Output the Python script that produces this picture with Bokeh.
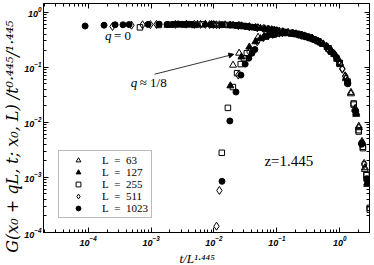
import math
from bokeh.plotting import figure
from bokeh.models import (LogAxis, LogTicker, Label, Legend, LegendItem, Title,
                          Arrow, NormalHead, Range1d)
from bokeh.embed import file_html
from bokeh.resources import INLINE

Z = 1.445
SIZES = [63, 127, 255, 511, 1023]

# ---- q = 0 branch : raw times t and G/t^(0.445/1.445)
T0_63 = [2, 4, 6, 8, 10, 20, 30, 40, 50, 60, 70, 80, 90, 100,
         200, 300, 400, 500, 600, 700, 800, 900, 1000]
G0_63 = [0.57, 0.59, 0.59, 0.58, 0.57, 0.52, 0.48, 0.46, 0.44, 0.43, 0.415, 0.405, 0.39, 0.38,
         0.28, 0.19, 0.12, 0.065, 0.035, 0.018, 0.0085, 0.0045, 0.0015]

T0_127 = [2, 4, 6, 8, 10, 20, 30, 40, 50, 60, 70, 80, 90, 100,
          200, 300, 400, 500, 600, 700, 800, 900, 1000, 2000, 3000]
G0_127 = [0.58, 0.59, 0.60, 0.60, 0.595, 0.585, 0.565, 0.545, 0.525, 0.51, 0.50, 0.49, 0.48, 0.47,
          0.41, 0.37, 0.335, 0.295, 0.265, 0.235, 0.20, 0.175, 0.145, 0.015, 0.0008]

T0_255 = [2, 4, 6, 8, 10, 20, 30, 40, 50, 60, 70, 80, 90, 100,
          200, 300, 400, 500, 600, 700, 800, 900, 1000,
          2000, 3000, 4000, 5000, 6000, 7000, 8000, 9000]
G0_255 = [0.53, 0.585, 0.595, 0.60, 0.60, 0.60, 0.595, 0.59, 0.585, 0.58, 0.575, 0.565, 0.56, 0.55,
          0.495, 0.46, 0.435, 0.42, 0.405, 0.39, 0.375, 0.36, 0.345,
          0.22, 0.12, 0.055, 0.022, 0.0072, 0.0036, 0.0011, 0.00026]

T0_511 = [2, 4, 6, 8, 10, 20, 30, 40, 50, 60, 70, 80, 90, 100,
          200, 300, 400, 500, 600, 700, 800, 900, 1000,
          2000, 3000, 4000, 5000, 6000, 7000, 8000, 9000, 10000, 20000]
G0_511 = [0.55, 0.58, 0.59, 0.595, 0.60, 0.60, 0.605, 0.60, 0.60, 0.60, 0.595, 0.595, 0.59, 0.59,
          0.57, 0.54, 0.52, 0.505, 0.49, 0.475, 0.46, 0.45, 0.44,
          0.385, 0.335, 0.285, 0.24, 0.20, 0.165, 0.13, 0.095, 0.07, 0.0018]

T0_1023 = [2, 4, 6, 8, 10, 20, 30, 40, 50, 60, 70, 80, 90, 100,
           200, 300, 400, 500, 600, 700, 800, 900, 1000,
           2000, 3000, 4000, 5000, 6000, 7000, 8000, 9000, 10000,
           20000, 30000, 40000, 50000, 60000]
G0_1023 = [0.56, 0.58, 0.59, 0.59, 0.595, 0.60, 0.605, 0.60, 0.60, 0.61, 0.60, 0.60, 0.605, 0.60,
           0.595, 0.59, 0.585, 0.575, 0.565, 0.555, 0.545, 0.535, 0.525,
           0.47, 0.435, 0.415, 0.39, 0.37, 0.355, 0.335, 0.32, 0.30,
           0.15, 0.052, 0.016, 0.0042, 0.00095]

# ---- q ~ 1/8 branch
T8_63 = [8, 10, 20, 30, 40, 50, 60, 70, 80, 90, 100,
         200, 300, 400, 500, 600, 700, 800, 900, 1000]
G8_63 = [0.109, 0.18, 0.35, 0.42, 0.44, 0.435, 0.42, 0.41, 0.40, 0.385, 0.375,
         0.275, 0.185, 0.115, 0.062, 0.033, 0.017, 0.008, 0.0042, 0.0014]

T8_127 = [20, 30, 40, 50, 60, 70, 80, 90, 100,
          200, 300, 400, 500, 600, 700, 800, 900, 1000, 2000, 3000]
G8_127 = [0.046, 0.154, 0.233, 0.29, 0.33, 0.36, 0.38, 0.395, 0.405,
          0.40, 0.365, 0.33, 0.29, 0.26, 0.23, 0.195, 0.17, 0.14, 0.014, 0.00075]

T8_255 = [40, 50, 60, 70, 80, 90, 100,
          200, 300, 400, 500, 600, 700, 800, 900, 1000,
          2000, 3000, 4000, 5000, 6000, 7000, 8000, 9000]
G8_255 = [0.0028, 0.0183, 0.0437, 0.078, 0.114, 0.146, 0.18,
          0.36, 0.41, 0.42, 0.41, 0.40, 0.385, 0.37, 0.355, 0.34,
          0.215, 0.115, 0.052, 0.021, 0.0068, 0.0034, 0.0011, 0.00028]

T8_511 = [90, 100, 200, 300, 400, 500, 600, 700, 800, 900, 1000,
          2000, 3000, 4000, 5000, 6000, 7000, 8000, 9000, 10000, 20000]
G8_511 = [0.00013, 0.00058, 0.072, 0.19, 0.29, 0.345, 0.375, 0.395, 0.41, 0.415, 0.42,
          0.38, 0.33, 0.28, 0.235, 0.195, 0.16, 0.125, 0.092, 0.068, 0.0017]

T8_1023 = [300, 400, 500, 600, 700, 800, 900, 1000,
           2000, 3000, 4000, 5000, 6000, 7000, 8000, 9000, 10000,
           20000, 30000, 40000, 50000, 60000]
G8_1023 = [0.00085, 0.0106, 0.0355, 0.072, 0.114, 0.146, 0.18, 0.21,
           0.39, 0.42, 0.41, 0.385, 0.365, 0.35, 0.33, 0.315, 0.295,
           0.145, 0.05, 0.0155, 0.0040, 0.0009]

STYLES = {
    63: dict(marker="triangle", fill_color=None, size=7),
    127: dict(marker="triangle", fill_color="black", size=7),
    255: dict(marker="square", fill_color=None, size=5.5),
    511: dict(marker="diamond", fill_color=None, size=8),
    1023: dict(marker="circle", fill_color="black", size=6),
}

DATA = {
    63: (T0_63, G0_63, T8_63, G8_63),
    127: (T0_127, G0_127, T8_127, G8_127),
    255: (T0_255, G0_255, T8_255, G8_255),
    511: (T0_511, G0_511, T8_511, G8_511),
    1023: (T0_1023, G0_1023, T8_1023, G8_1023),
}

p = figure(width=374, height=265, x_axis_type="log", y_axis_type="log",
           x_range=Range1d(1.95e-5, 2.97), y_range=Range1d(1e-4, 1.436),
           output_backend="svg", toolbar_location=None,
           min_border_left=40, min_border_right=5, min_border_top=3, min_border_bottom=32)
p.xgrid.visible = False
p.ygrid.visible = False
p.outline_line_color = "black"
p.background_fill_color = "white"
p.border_fill_color = "white"

bottom_axis = p.below[0]
left_axis = p.left[0]

items = []
for L in SIZES:
    t0, g0, t8, g8 = DATA[L]
    scale = L ** Z
    st = STYLES[L]
    r0 = p.scatter([t / scale for t in t0], g0, line_color="black", line_width=1, **st)
    p.scatter([t / scale for t in t8], g8, line_color="black", line_width=1, **st)
    items.append(LegendItem(label=f"L\u2002=\u2002{L}", renderers=[r0]))

top_axis = LogAxis()
right_axis = LogAxis()
p.add_layout(top_axis, "above")
p.add_layout(right_axis, "right")

for ax in [bottom_axis, left_axis, top_axis, right_axis]:
    ax.ticker = LogTicker(num_minor_ticks=10)
    ax.major_tick_in = 5
    ax.major_tick_out = 0
    ax.minor_tick_in = 3
    ax.minor_tick_out = 0
    ax.axis_line_color = "black"
    ax.major_tick_line_color = "black"
    ax.minor_tick_line_color = "black"
for ax in [bottom_axis, left_axis]:
    ax.major_label_text_font = "Liberation Sans"
    ax.major_label_text_font_style = "bold italic"
    ax.major_label_text_font_size = "9px"
    ax.major_label_text_color = "black"
bottom_axis.major_label_standoff = 3
left_axis.major_label_standoff = 2
for ax in [top_axis, right_axis]:
    ax.major_label_text_font_size = "1px"
    ax.major_label_text_color = None
    ax.major_label_standoff = 0

# axis titles
p.add_layout(Title(text="G(x₀ + qL, t; x₀, L) /t⁰·⁴⁴⁵/¹·⁴⁴⁵", align="right", offset=17,
                   standoff=0, text_font="DejaVu Serif", text_font_style="italic",
                   text_font_size="16px", text_color="black"), "left")
p.add_layout(Title(text="t/L¹·⁴⁴⁵", align="left", offset=136, standoff=0,
                   text_font="Liberation Serif", text_font_style="italic",
                   text_font_size="13px", text_color="black"), "below")

legend = Legend(items=items, location=(15, 14), padding=3, spacing=0, margin=0,
                label_height=12, glyph_height=12, glyph_width=32, label_standoff=8,
                label_text_font="Liberation Serif", label_text_font_size="11px",
                label_text_line_height=0.9, label_text_color="black",
                border_line_color="#777777", border_line_width=1,
                background_fill_color="white", background_fill_alpha=1.0)
p.add_layout(legend)

serif = "Liberation Serif"
p.add_layout(Label(x=1.853e-4, y=0.27, text="q", text_font=serif, text_font_style="italic",
                   text_font_size="13px", text_color="black"))
p.add_layout(Label(x=1.853e-4, y=0.27, x_offset=9, text="= 0", text_font=serif,
                   text_font_size="13px", text_color="black"))
p.add_layout(Label(x=4.75e-4, y=0.038, text="q", text_font=serif, text_font_style="italic",
                   text_font_size="13px", text_color="black"))
p.add_layout(Label(x=4.75e-4, y=0.038, x_offset=9, text="≈ 1/8", text_font=serif,
                   text_font_size="13px", text_color="black"))
p.add_layout(Label(x=0.0635, y=0.00143, text="z=1.445", text_font=serif,
                   text_font_size="15px", text_color="black"))
p.add_layout(Arrow(end=NormalHead(size=5, fill_color="black", line_color="black", line_width=0.8),
                   x_start=1.135e-3, y_start=0.0747, x_end=0.02065, y_end=0.172,
                   line_color="black", line_width=0.8))

open("out.html", "w").write(file_html(p, INLINE))
